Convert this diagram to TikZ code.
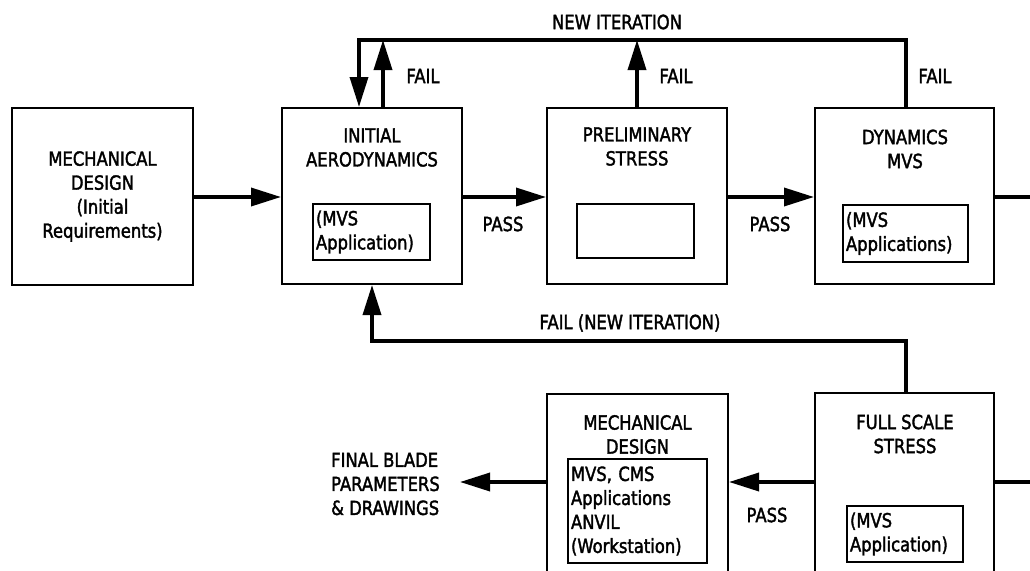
\documentclass[tikz,border=0pt]{standalone}
\usepackage{fontspec}
\setmainfont{DejaVu Sans}[FakeStretch=0.84,FakeBold=1.8]
\usetikzlibrary{arrows.meta,calc}
\begin{document}
\begin{tikzpicture}[x=1pt,y=-1pt,
  every node/.style={font=\fontsize{19.5}{24}\selectfont,text=black},
  bigbox/.style={draw,line width=2pt,inner sep=0pt},
  innerbox/.style={draw,line width=2pt,inner sep=3pt,align=left},
  ttl/.style={align=center,inner sep=0pt},
  lbl/.style={inner sep=0pt},
  conn/.style={line width=3.5pt},
  arr/.style={line width=3.5pt,-{Triangle[length=30pt,width=18pt]}},
]
\useasboundingbox (0,0) rectangle (1030,570);
\clip (0,0) rectangle (1030,570);
\fill[white] (0,0) rectangle (1030,570);

% top row boxes
\node[bigbox,minimum width=181pt,minimum height=177pt] (b1) at (102.5,196.5) {};
\node[bigbox,minimum width=180pt,minimum height=176pt] (b2) at (372,196) {};
\node[bigbox,minimum width=180pt,minimum height=176pt] (b3) at (637,196) {};
\node[bigbox,minimum width=179pt,minimum height=176pt] (b4) at (904.5,196) {};
% bottom row boxes
\node[bigbox,minimum width=179pt,minimum height=187pt] (b5) at (904.5,486.5) {};
\node[bigbox,minimum width=181pt,minimum height=186pt] (b6) at (637.5,487) {};

% titles
\node[ttl] (t1) at (102.5,196.5) {MECHANICAL\\DESIGN\\(Initial\\Requirements)};
\node[ttl] (t2) at (372,147.5) {INITIAL\\AERODYNAMICS};
\node[ttl] (t3) at (637,146.5) {PRELIMINARY\\STRESS};
\node[ttl] (t4) at (905,149) {DYNAMICS\\MVS};
\node[ttl] (t5) at (905,434) {FULL SCALE\\STRESS};
\node[ttl] (t6) at (637.5,434.5) {MECHANICAL\\DESIGN};

% inner boxes
\node[innerbox,minimum width=117pt,minimum height=56pt,text width=111pt] (i2) at (371.5,232) {(MVS\\Application)};
\node[innerbox,minimum width=117pt,minimum height=54pt,text width=111pt] (i3) at (635.5,231) {};
\node[innerbox,minimum width=125pt,minimum height=57pt,text width=119pt] (i4) at (905.5,233.5) {(MVS\\Applications)};
\node[innerbox,minimum width=116pt,minimum height=56pt,text width=110pt] (i5) at (905,534) {(MVS\\Application)};
\node[innerbox,minimum width=139pt,minimum height=104pt,text width=133pt] (i6) at (637.5,511) {MVS, CMS\\Applications\\ANVIL\\(Workstation)};

% coordinates
\coordinate (tl) at (359,40);
\coordinate (tr) at (906,40);
\coordinate (bl) at (372,341);
\coordinate (r4) at (1030,197);
\coordinate (r5) at (1030,482);
\coordinate (fe) at (460,482);

% main flow arrows
\draw[arr] (b1.east |- r4) -- (b2.west |- r4);
\draw[arr] (b2.east |- r4) -- (b3.west |- r4);
\draw[arr] (b3.east |- r4) -- (b4.west |- r4);
\draw[conn] (b4.east |- r4) -- (r4);
\draw[conn] (b5.east |- r5) -- (r5);
\draw[arr] (b5.west |- r5) -- (b6.east |- r5);
\draw[arr] (b6.west |- r5) -- (fe);

% top loop
\draw[conn] (tr |- b4.north) -- (tr) -- ([xshift=-1.75pt]tl);
\draw[arr] (tl) -- (tl |- b2.north);
\draw[arr] ([xshift=11pt]b2.north) -- ([xshift=11pt]b2.north |- tl);
\draw[arr] (b3.north) -- (b3.north |- tl);

% bottom loop
\draw[arr] (tr |- b5.north) |- (bl) -- (b2.south);

% labels
\node[lbl] (l1) at (617,22) {NEW ITERATION};
\node[lbl] (l2) at (423,76) {FAIL};
\node[lbl] (l3) at (676,76) {FAIL};
\node[lbl] (l4) at (935,76) {FAIL};
\node[lbl] (l5) at (503,224) {PASS};
\node[lbl] (l6) at (770,224) {PASS};
\node[lbl] (l7) at (767,515) {PASS};
\node[lbl] (l8) at (630,323) {FAIL (NEW ITERATION)};
\node[lbl,align=left,anchor=west] (fb) at (331,484) {FINAL BLADE\\PARAMETERS\\\& DRAWINGS};
\end{tikzpicture}
\end{document}
